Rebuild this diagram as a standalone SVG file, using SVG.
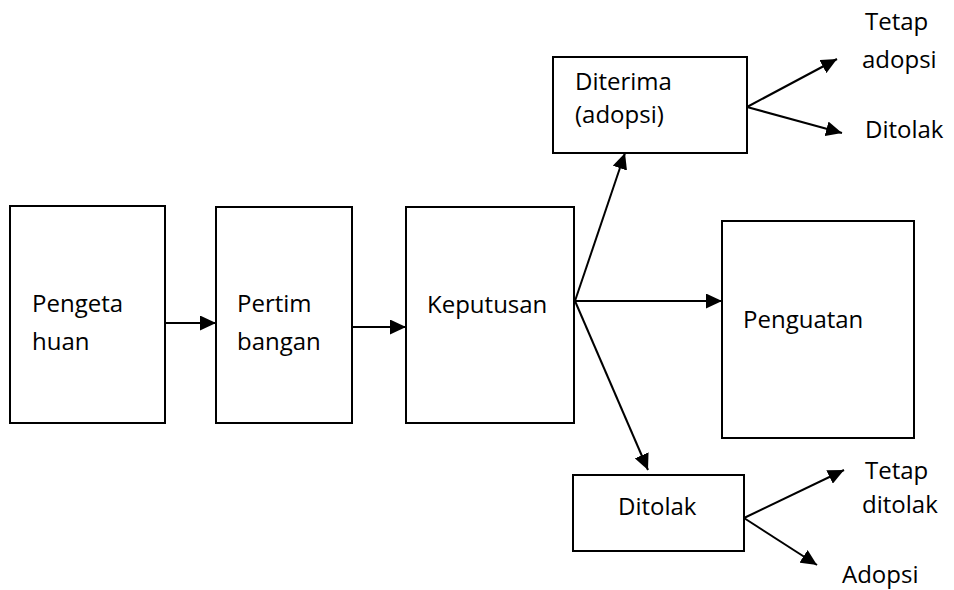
<svg xmlns="http://www.w3.org/2000/svg" width="954" height="590" viewBox="0 0 954 590">
<style>
.box{fill:#fff;stroke:#000;stroke-width:2}
.lbl{font-family:"Open Sans","Liberation Sans",sans-serif;font-size:24px;fill:#000}
.c{stroke:#000;stroke-width:2;fill:none;marker-end:url(#ah)}
</style>
<defs>
<marker id="ah" markerUnits="userSpaceOnUse" markerWidth="17" markerHeight="15" refX="16" refY="7.5" orient="auto">
<path d="M0,0 L16,7.5 L0,15 Z" fill="#000"/>
</marker>
</defs>
<rect width="954" height="590" fill="#fff"/>
<g id="connectors">
<line class="c" x1="165" y1="323" x2="216" y2="323"/>
<line class="c" x1="352" y1="327" x2="406" y2="327"/>
<line class="c" x1="575" y1="301" x2="722" y2="301"/>
<line class="c" x1="575" y1="301" x2="625" y2="153"/>
<line class="c" x1="575" y1="301" x2="648" y2="470"/>
<line class="c" x1="747" y1="107" x2="837" y2="59"/>
<line class="c" x1="747" y1="107" x2="842" y2="133"/>
<line class="c" x1="744" y1="518" x2="844" y2="470"/>
<line class="c" x1="744" y1="518" x2="817" y2="565"/>
</g>
<g id="pengetahuan">
<rect class="box" x="10" y="206" width="155" height="217"/>
<text class="lbl" x="32" y="312">Pengeta</text>
<text class="lbl" x="32" y="350">huan</text>
</g>
<g id="pertimbangan">
<rect class="box" x="216" y="207" width="136" height="216"/>
<text class="lbl" x="237" y="312">Pertim</text>
<text class="lbl" x="237" y="350">bangan</text>
</g>
<g id="keputusan">
<rect class="box" x="406" y="207" width="168" height="216"/>
<text class="lbl" x="427" y="313">Keputusan</text>
</g>
<g id="penguatan">
<rect class="box" x="722" y="221" width="192" height="217"/>
<text class="lbl" x="743" y="328">Penguatan</text>
</g>
<g id="diterima">
<rect class="box" x="553" y="57" width="194" height="96"/>
<text class="lbl" x="575" y="90">Diterima</text>
<text class="lbl" x="575" y="123">(adopsi)</text>
</g>
<g id="ditolak">
<rect class="box" x="573" y="475" width="171" height="76"/>
<text class="lbl" x="618" y="515">Ditolak</text>
</g>
<g id="tetap-adopsi">
<text class="lbl" x="865" y="30">Tetap</text>
<text class="lbl" x="862" y="68">adopsi</text>
</g>
<g id="ditolak-2">
<text class="lbl" x="865" y="138">Ditolak</text>
</g>
<g id="tetap-ditolak">
<text class="lbl" x="865" y="479">Tetap</text>
<text class="lbl" x="862" y="513">ditolak</text>
</g>
<g id="adopsi">
<text class="lbl" x="842" y="583">Adopsi</text>
</g>
</svg>
